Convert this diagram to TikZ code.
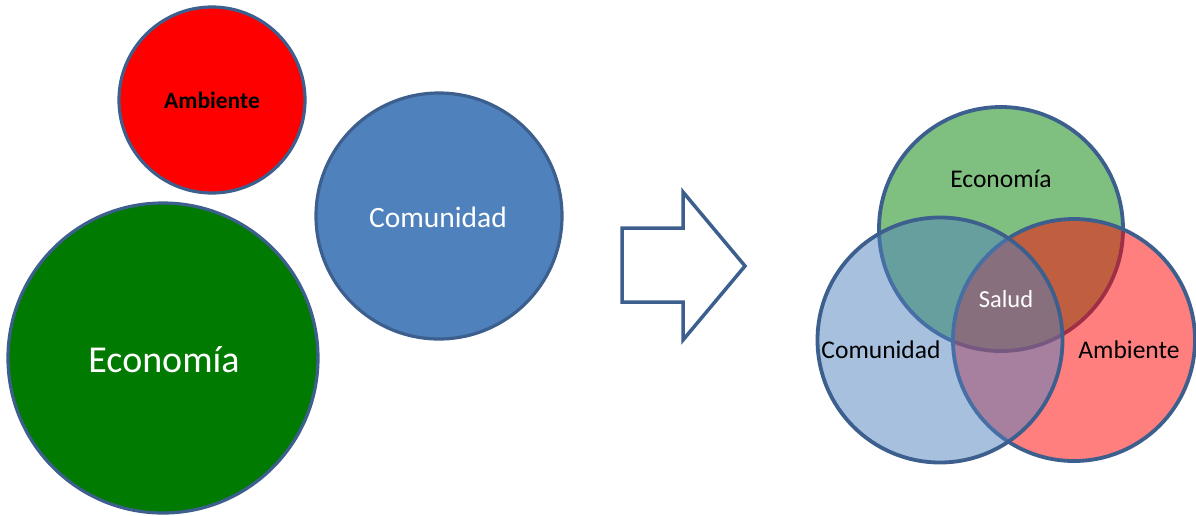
\documentclass[tikz,border=0pt]{standalone}
\usepackage{fontspec}
\setmainfont{Carlito}
\definecolor{edge}{HTML}{3D5F8E}
\definecolor{redA}{HTML}{FF0000}
\definecolor{greenE}{HTML}{007A00}
\definecolor{blueC}{HTML}{4F81BD}
\definecolor{vgreen}{HTML}{008000}
\definecolor{vred}{HTML}{FF0000}
\definecolor{vblue}{HTML}{4F81BD}
\begin{document}
\begin{tikzpicture}[x=1pt,y=-1pt,
  disc/.style={circle,draw=edge,line width=3.2pt,inner sep=0pt},
  vdisc/.style={circle,draw=edge,line width=3.8pt,fill opacity=0.5,inner sep=0pt},
  lbl/.style={anchor=base,inner sep=0pt},
  blockarrow/.style={draw=edge,line width=3.5pt,fill=white,line join=miter}]
\useasboundingbox (0,0) rectangle (1196,515);
% left side circles
\node[disc,fill=redA,minimum size=186pt] (amb) at (212,100) {};
\node[disc,fill=blueC,minimum size=246pt] (com) at (439,216) {};
\node[disc,fill=greenE,minimum size=310pt] (eco) at (163,358) {};
\node[lbl,font=\fontsize{23.5}{26}\selectfont\bfseries,text=black] (tamb) at (212,108) {Ambiente};
\node[lbl,font=\fontsize{29.5}{32}\selectfont,text=white] (tcom) at (438,227) {Comunidad};
\node[lbl,font=\fontsize{38}{42}\selectfont,text=white] (teco) at (164,372) {Economía};
% block arrow
\coordinate (a1) at (622,228);
\coordinate (a2) at (683,228);
\coordinate (a3) at (683,192);
\coordinate (a4) at (745,266);
\coordinate (a5) at (683,340);
\coordinate (a6) at (683,302);
\coordinate (a7) at (622,302);
\draw[blockarrow] (a1) -- (a2) -- (a3) -- (a4) -- (a5) -- (a6) -- (a7) -- cycle;
% Venn
\node[vdisc,fill=vgreen,minimum size=244pt] (vg) at (1001,229) {};
\node[vdisc,fill=vred,minimum size=242pt] (vr) at (1074,340) {};
\node[vdisc,fill=vblue,minimum size=245pt] (vb) at (940,340) {};
\node[lbl,font=\fontsize{25.5}{28}\selectfont,text=black] (veco) at (1001,187) {Economía};
\node[lbl,font=\fontsize{24.5}{27}\selectfont,text=white] (vsal) at (1006,307) {Salud};
\node[lbl,font=\fontsize{25.5}{28}\selectfont,text=black] (vcom) at (881,358) {Comunidad};
\node[lbl,font=\fontsize{25.5}{28}\selectfont,text=black] (vamb) at (1129,358) {Ambiente};
\end{tikzpicture}
\end{document}
